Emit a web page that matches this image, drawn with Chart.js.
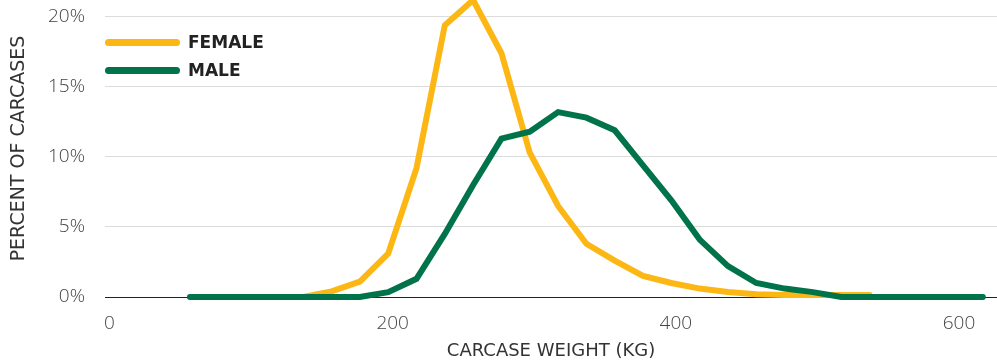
<!DOCTYPE html>
<html>
<head>
<meta charset="utf-8">
<script src="https://cdn.jsdelivr.net/npm/chart.js@4.4.1/dist/chart.umd.min.js"></script>
<style>
    body { margin: 0; background: #fff; }
    #wrap { position: relative; width: 997px; height: 360px; }
    .legend { position: absolute; left: 105px; font-family: "DejaVu Sans", sans-serif; font-size: 17px; font-weight: 600; color: #222; }
    .legend .swatch { position: absolute; left: 0; width: 75px; height: 7px; border-radius: 4px; }
    .legend .label { position: absolute; left: 83px; top: -11px; white-space: nowrap; line-height: 22px; }
</style>
</head>
<body>
<div id="wrap">
    <canvas id="chart_carcase" width="997" height="360"></canvas>
    <div class="legend" style="top: 42px;"><div class="swatch" style="top: -3.5px; background: #FDB714;"></div><div class="label">FEMALE</div></div>
    <div class="legend" style="top: 70px;"><div class="swatch" style="top: -3.5px; background: #00734A;"></div><div class="label">MALE</div></div>
</div>
<script>
// carcase weight (kg) bins
const weights = [60, 80, 100, 120, 140, 160, 180, 200, 220, 240, 260, 280, 300, 320, 340,
    360, 380, 400, 420, 440, 460, 480, 500, 520, 540, 560, 580, 600, 620];

// percent of carcases
const female = [null, null, null, null, 0, 0.4, 1.1, 3.1, 9.2, 19.4, 21.2, 17.4, 10.3, 6.5, 3.8,
    2.6, 1.5, 1.0, 0.6, 0.35, 0.2, 0.15, 0.15, 0.15, 0.15, null, null, null, null];
const male = [0, 0, 0, 0, 0, 0, 0, 0.35, 1.3, 4.5, 8.0, 11.3, 11.8, 13.2, 12.8,
    11.9, 9.4, 6.9, 4.1, 2.2, 1.0, 0.6, 0.35, 0, 0, 0, 0, 0, 0];

const seriesNames = ['FEMALE', 'MALE'];
const xTicks = [0, 200, 400, 600];
const yTicks = [0, 5, 10, 15, 20];

const titleFont = '"DejaVu Sans", sans-serif';
const tickFont = '"Open Sans", sans-serif';

function points(values) {
    return weights.map((w, i) => ({ x: w, y: values[i] }));
}

function buildCarcaseChart() {
    return {
        type: 'line',
        data: {
            datasets: [
                {
                    label: seriesNames[0],
                    data: points(female),
                    borderColor: '#FDB714',
                    borderWidth: 6,
                    borderCapStyle: 'round',
                    pointRadius: 0,
                    tension: 0,
                    spanGaps: false,
                    clip: false,
                    order: 1
                },
                {
                    label: seriesNames[1],
                    data: points(male),
                    borderColor: '#00734A',
                    borderWidth: 6,
                    borderCapStyle: 'round',
                    pointRadius: 0,
                    tension: 0,
                    clip: false,
                    order: 0
                }
            ]
        },
        options: {
            responsive: false,
            animation: false,
            layout: { padding: 0 },
            plugins: {
                legend: { display: false },
                tooltip: { enabled: false }
            },
            scales: {
                x: {
                    type: 'linear',
                    min: 0,
                    max: 630,
                    afterFit: scale => {
                        scale.height = 63;
                        scale.paddingLeft = 0;
                        scale.paddingRight = 0;
                    },
                    afterBuildTicks: scale => { scale.ticks = xTicks.map(v => ({ value: v })); },
                    grid: { display: false },
                    border: { display: false },
                    ticks: {
                        padding: 7,
                        labelOffset: 4.5,
                        color: '#444',
                        font: { family: tickFont, size: 19, weight: 300 }
                    },
                    title: {
                        display: true,
                        text: 'CARCASE WEIGHT (KG)',
                        color: '#333',
                        padding: 0,
                        font: { family: titleFont, size: 18, weight: 400, lineHeight: 1.0 }
                    }
                },
                y: {
                    min: 0,
                    max: 21.2,
                    afterFit: scale => {
                        scale.width = 105;
                        scale.paddingTop = 0;
                        scale.paddingBottom = 0;
                    },
                    afterBuildTicks: scale => { scale.ticks = yTicks.map(v => ({ value: v })); },
                    grid: {
                        drawTicks: false,
                        color: ctx => ctx.tick && ctx.tick.value === 0 ? '#222' : '#dcdcdc',
                        lineWidth: 1
                    },
                    border: { display: false },
                    ticks: {
                        padding: 20,
                        color: '#444',
                        font: { family: tickFont, size: 19, weight: 300 },
                        callback: v => v + '%'
                    },
                    title: {
                        display: true,
                        text: 'PERCENT OF CARCASES',
                        color: '#333',
                        padding: { top: 10, bottom: 0 },
                        font: { family: titleFont, size: 19, weight: 400, lineHeight: 1.0 }
                    }
                }
            }
        }
    };
}

new Chart(document.getElementById('chart_carcase'), buildCarcaseChart());
</script>
</body>
</html>
